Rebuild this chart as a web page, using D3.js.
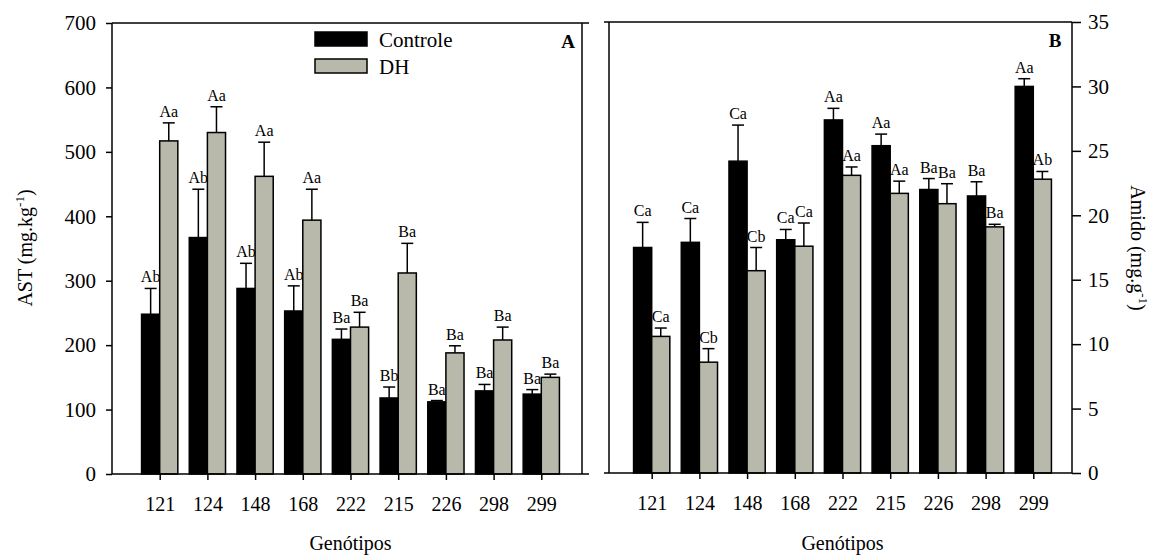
<!DOCTYPE html>
<html>
<head>
<meta charset="utf-8">
<script src="https://cdn.jsdelivr.net/npm/d3@7"></script>
<style>
  html, body { margin: 0; padding: 0; background: #ffffff; }
  svg text { font-family: "Liberation Serif", "Times New Roman", serif; fill: #000; }
</style>
</head>
<body>
<svg id="chart" width="1160" height="556"></svg>
<script>
// ---------- DATA ----------
const categories = ["121", "124", "148", "168", "222", "215", "226", "298", "299"];
const seriesNames = ["Controle", "DH"];

// Panel A: AST (mg.kg-1)
const astControle    = [248, 367, 288, 253, 209, 118, 112, 129, 124];
const astControleErr = [40, 75, 39, 39, 16, 17, 2, 10, 7];
const astDH          = [517, 530, 462, 394, 228, 312, 188, 208, 150];
const astDHErr       = [28, 40, 53, 48, 23, 46, 11, 20, 5];
const astControleLbl = ["Ab", "Ab", "Ab", "Ab", "Ba", "Bb", "Ba", "Ba", "Ba"];
const astDHLbl       = ["Aa", "Aa", "Aa", "Aa", "Ba", "Ba", "Ba", "Ba", "Ba"];
const astTicks       = [0, 100, 200, 300, 400, 500, 600, 700];

// Panel B: Amido (mg.g-1)
const amControle    = [17.5, 17.9, 24.2, 18.1, 27.4, 25.4, 22.0, 21.5, 30.0];
const amControleErr = [1.95, 1.85, 2.8, 0.8, 0.9, 0.9, 0.85, 1.1, 0.6];
const amDH          = [10.6, 8.6, 15.7, 17.6, 23.1, 21.7, 20.9, 19.1, 22.8];
const amDHErr       = [0.65, 1.05, 1.8, 1.8, 0.65, 0.95, 1.55, 0.2, 0.6];
const amControleLbl = ["Ca", "Ca", "Ca", "Ca", "Aa", "Aa", "Ba", "Ba", "Aa"];
const amDHLbl       = ["Ca", "Cb", "Cb", "Ca", "Aa", "Aa", "Ba", "Ba", "Ab"];
const amTicks       = [0, 5, 10, 15, 20, 25, 30, 35];

const colors = { Controle: "#000000", DH: "#b8b8ab" };

// ---------- DRAW ----------
const svg = d3.select("#chart");
svg.append("rect").attr("width", 1160).attr("height", 556).attr("fill", "#ffffff");

function panel(opts) {
  const { xRange, yRange, yDomain, yTicks, ctrl, ctrlErr, dh, dhErr, ctrlLbl, dhLbl,
          frameLeft, frameRight, lineLeft, lineRight, yAxisSide, letter, letterX } = opts;
  const x = d3.scaleLinear().domain([0, 10]).range(xRange);
  const y = d3.scaleLinear().domain(yDomain).range(yRange);
  const g = svg.append("g");
  const bw = 0.38; // bar width in x units

  const rows = categories.map((c, i) => ({ c, pos: i + 1,
    ctrl: ctrl[i], ctrlErr: ctrlErr[i], dh: dh[i], dhErr: dhErr[i],
    ctrlLbl: ctrlLbl[i], dhLbl: dhLbl[i] }));

  // bars
  const series = [
    { key: "Controle", val: d => d.ctrl, err: d => d.ctrlErr, lbl: d => d.ctrlLbl, off: -bw },
    { key: "DH", val: d => d.dh, err: d => d.dhErr, lbl: d => d.dhLbl, off: 0 }
  ];
  series.forEach(s => {
    // error bars (up only)
    g.selectAll(null).data(rows).enter().append("line")
      .attr("x1", d => x(d.pos + s.off + bw / 2)).attr("x2", d => x(d.pos + s.off + bw / 2))
      .attr("y1", d => y(s.val(d))).attr("y2", d => y(s.val(d) + s.err(d)))
      .attr("stroke", "#000").attr("stroke-width", 1.5);
    g.selectAll(null).data(rows).enter().append("line")
      .attr("x1", d => x(d.pos + s.off + bw / 2) - 6).attr("x2", d => x(d.pos + s.off + bw / 2) + 6)
      .attr("y1", d => y(s.val(d) + s.err(d))).attr("y2", d => y(s.val(d) + s.err(d)))
      .attr("stroke", "#000").attr("stroke-width", 1.5);
    g.selectAll(null).data(rows).enter().append("rect")
      .attr("x", d => x(d.pos + s.off))
      .attr("width", d => x(d.pos + s.off + bw) - x(d.pos + s.off))
      .attr("y", d => y(s.val(d)))
      .attr("height", d => y(0) - y(s.val(d)))
      .attr("fill", colors[s.key])
      .attr("stroke", "#000").attr("stroke-width", 1.5);
    g.selectAll(null).data(rows).enter().append("text")
      .attr("x", d => x(d.pos + s.off + bw / 2))
      .attr("y", d => y(s.val(d) + s.err(d)) - 6)
      .attr("text-anchor", "middle")
      .attr("font-size", 16)
      .text(d => s.lbl(d));
  });

  // frame
  const y0 = y(yDomain[0]), y1 = y(yDomain[1]);
  const fr = g.append("g").attr("stroke", "#000").attr("stroke-width", 1.5);
  fr.append("line").attr("x1", lineLeft).attr("x2", lineRight).attr("y1", y1).attr("y2", y1);
  fr.append("line").attr("x1", lineLeft).attr("x2", lineRight).attr("y1", y0).attr("y2", y0);
  fr.append("line").attr("x1", frameLeft).attr("x2", frameLeft).attr("y1", y1).attr("y2", y0);
  fr.append("line").attr("x1", frameRight).attr("x2", frameRight).attr("y1", y1).attr("y2", y0);

  // x axis
  const xa = g.append("g").attr("transform", `translate(0,${y0})`)
    .call(d3.axisBottom(x).tickValues(d3.range(1, categories.length + 1))
      .tickFormat(d => categories[d - 1]).tickSize(6).tickPadding(17));
  xa.select(".domain").remove();
  xa.selectAll("line").attr("stroke-width", 1.5);
  xa.selectAll("text").attr("font-size", 20).attr("font-family", "Liberation Serif");

  // y axis
  let ya;
  if (yAxisSide === "left") {
    ya = g.append("g").attr("transform", `translate(${frameLeft},0)`)
      .call(d3.axisLeft(y).tickValues(yTicks).tickSize(6).tickPadding(10));
  } else {
    ya = g.append("g").attr("transform", `translate(${frameRight},0)`)
      .call(d3.axisRight(y).tickValues(yTicks).tickSize(9).tickPadding(7));
  }
  ya.select(".domain").remove();
  ya.selectAll("line").attr("stroke-width", 1.5);
  ya.selectAll("text").attr("font-size", 21).attr("font-family", "Liberation Serif");

  // x title
  g.append("text").attr("x", x(5)).attr("y", 550).attr("text-anchor", "middle")
    .attr("font-size", 20).text("Genótipos");

  // panel letter
  g.append("text").attr("x", letterX).attr("y", y1 + 25).attr("text-anchor", "middle")
    .attr("font-size", 19).attr("font-weight", "bold").text(letter);

  return { x, y, g };
}

const A = panel({
  xRange: [112, 589], yRange: [474, 23], yDomain: [0, 700], yTicks: astTicks,
  ctrl: astControle, ctrlErr: astControleErr, dh: astDH, dhErr: astDHErr,
  ctrlLbl: astControleLbl, dhLbl: astDHLbl,
  frameLeft: 112, frameRight: 582, lineLeft: 112, lineRight: 589,
  yAxisSide: "left", letter: "A", letterX: 568
});

const B = panel({
  xRange: [604, 1081], yRange: [473, 22], yDomain: [0, 35], yTicks: amTicks,
  ctrl: amControle, ctrlErr: amControleErr, dh: amDH, dhErr: amDHErr,
  ctrlLbl: amControleLbl, dhLbl: amDHLbl,
  frameLeft: 609, frameRight: 1072, lineLeft: 604, lineRight: 1072,
  yAxisSide: "right", letter: "B", letterX: 1055
});

// y titles
const t1 = svg.append("text").attr("transform", "translate(32,248) rotate(-90)")
  .attr("text-anchor", "middle").attr("font-size", 20);
t1.append("tspan").text("AST (mg.kg");
t1.append("tspan").attr("font-size", 13).attr("dy", -8).text("-1");
t1.append("tspan").attr("dy", 8).text(")");

const t2 = svg.append("text").attr("transform", "translate(1131,248) rotate(90)")
  .attr("text-anchor", "middle").attr("font-size", 20);
t2.append("tspan").text("Amido (mg.g");
t2.append("tspan").attr("font-size", 13).attr("dy", -8).text("-1");
t2.append("tspan").attr("dy", 8).text(")");

// legend
const leg = svg.append("g");
seriesNames.forEach((name, i) => {
  leg.append("rect").attr("x", 315).attr("y", 32 + i * 27).attr("width", 52).attr("height", 14)
    .attr("fill", colors[name]).attr("stroke", "#000").attr("stroke-width", 1.5);
  leg.append("text").attr("x", 379).attr("y", 47 + i * 27).attr("font-size", 21).text(name);
});
</script>
</body>
</html>
